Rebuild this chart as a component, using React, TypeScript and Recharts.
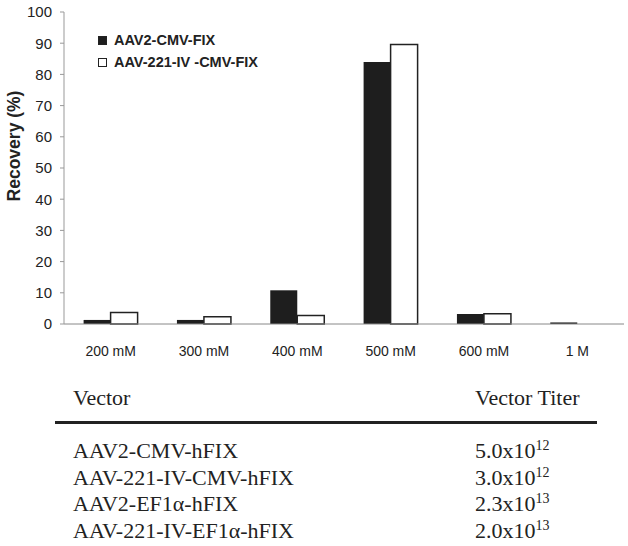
import { BarChart, Bar, XAxis, YAxis, Legend, Label } from 'recharts'

const concentrations = ['200 mM', '300 mM', '400 mM', '500 mM', '600 mM', '1 M']
const aav2Recovery = [1.3, 1.3, 10.8, 84.0, 3.2, 0.5]
const aav221Recovery = [3.7, 2.3, 2.7, 89.6, 3.3, 0]
const yTicks = [0, 10, 20, 30, 40, 50, 60, 70, 80, 90, 100]
const boundaryTicks = [1, 2, 3, 4, 5, 6]

const seriesNames = ['AAV2-CMV-FIX', 'AAV-221-IV -CMV-FIX']

const vectorNames = ['AAV2-CMV-hFIX', 'AAV-221-IV-CMV-hFIX', 'AAV2-EF1\u03b1-hFIX', 'AAV-221-IV-EF1\u03b1-hFIX']
const titerMantissa = ['5.0', '3.0', '2.3', '2.0']
const titerExponent = ['12', '12', '13', '13']

const data = concentrations.map((c, i) => ({
  name: c,
  aav2: aav2Recovery[i],
  aav221: aav221Recovery[i],
}))

const sans = '"Liberation Sans", Arial, sans-serif'
const serif = '"Liberation Serif", "Times New Roman", serif'

function ChartLegend() {
  return (
    <div style={{ fontFamily: sans, fontWeight: 'bold', fontSize: 14.5, color: '#222' }}>
      {seriesNames.map((n, i) => (
        <div key={n} style={{ display: 'flex', alignItems: 'center', height: 22 }}>
          <span
            style={{
              display: 'inline-block',
              width: 7,
              height: 7,
              marginRight: 7,
              background: i === 0 ? '#1e1e1e' : '#fff',
              border: '1px solid #222',
            }}
          />
          {n}
        </div>
      ))}
    </div>
  )
}

function YLabel(props: any) {
  const vb = props.viewBox || { x: 0, y: 0, height: 0 }
  const cy = vb.y + vb.height / 2 - 22
  return (
    <text
      x={14}
      y={cy}
      transform={`rotate(-90, 14, ${cy})`}
      textAnchor="middle"
      dominantBaseline="central"
      fontFamily={sans}
      fontWeight="bold"
      fontSize={17.5}
      fill="#222"
    >
      Recovery (%)
    </text>
  )
}

export default function App() {
  return (
    <div style={{ position: 'absolute', left: 0, top: 0, width: 628, height: 546, background: '#fff' }}>
      <BarChart
        width={628}
        height={360}
        data={data}
        margin={{ top: 12, right: 4, left: 0, bottom: 0 }}
        barCategoryGap="21%"
        barGap={0}
      >
        <XAxis
          xAxisId="bounds"
          type="number"
          domain={[0, 6]}
          allowDataOverflow
          ticks={boundaryTicks}
          tick={false}
          axisLine={false}
          tickSize={5}
          height={0}
          tickLine={{ stroke: '#888' }}
        />
        <XAxis
          dataKey="name"
          height={36}
          tickLine={false}
          tickMargin={16}
          axisLine={{ stroke: '#888' }}
          tick={{ fontFamily: sans, fontSize: 14, fill: '#222' }}
          interval={0}
        />
        <YAxis
          width={64}
          domain={[0, 100]}
          ticks={yTicks}
          tickSize={4}
          tickMargin={8}
          axisLine={{ stroke: '#999' }}
          tickLine={{ stroke: '#999' }}
          tick={{ fontFamily: sans, fontSize: 15, fill: '#222' }}
          interval={0}
        >
          <Label content={<YLabel />} />
        </YAxis>
        <Legend
          layout="vertical"
          align="center"
          verticalAlign="middle"
          content={<ChartLegend />}
          wrapperStyle={{ position: 'absolute', left: 98, top: 29, width: 260 }}
        />
        <Bar dataKey="aav2" name={seriesNames[0]} fill="#1e1e1e" isAnimationActive={false} />
        <Bar dataKey="aav221" name={seriesNames[1]} fill="#fff" stroke="#222" strokeWidth={1.5} isAnimationActive={false} />
      </BarChart>

      <div style={{ position: 'absolute', left: 0, top: 0, fontFamily: serif, fontSize: 22, lineHeight: '26.5px', color: '#222' }}>
        <div style={{ position: 'absolute', left: 73, top: 385, whiteSpace: 'nowrap' }}>Vector</div>
        <div style={{ position: 'absolute', left: 475, top: 385, whiteSpace: 'nowrap' }}>Vector Titer</div>
        <div style={{ position: 'absolute', left: 55, top: 421, width: 542, height: 3, background: '#222' }} />
        {vectorNames.map((v, i) => (
          <div key={v}>
            <div style={{ position: 'absolute', left: 73, top: 438 + i * 26.5, whiteSpace: 'nowrap' }}>{v}</div>
            <div style={{ position: 'absolute', left: 475, top: 438 + i * 26.5, whiteSpace: 'nowrap' }}>
              {titerMantissa[i]}x10
              <span style={{ position: 'relative', top: -8, fontSize: 14 }}>{titerExponent[i]}</span>
            </div>
          </div>
        ))}
      </div>
    </div>
  )
}
